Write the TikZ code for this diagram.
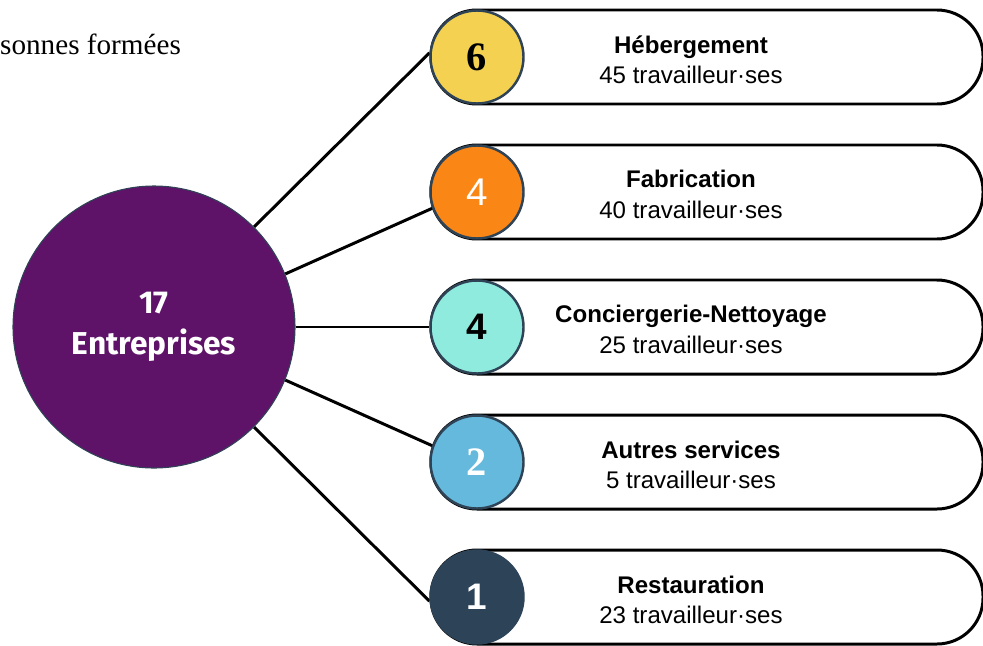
\documentclass[tikz,border=0pt]{standalone}
\usepackage{fontspec}
\setmainfont{Liberation Serif}
\setsansfont{Liberation Sans}
\newfontfamily\humfont{Fira Sans}
\usepackage{xcolor}
\usetikzlibrary{positioning,backgrounds}
\definecolor{entpurple}{HTML}{5E1368}
\definecolor{slateline}{HTML}{2F4356}
\definecolor{hebyellow}{HTML}{F4D150}
\definecolor{faborange}{HTML}{FA8616}
\definecolor{conteal}{HTML}{8EEBDE}
\definecolor{autblue}{HTML}{64B9DC}
\definecolor{resnavy}{HTML}{2D4358}
\tikzset{
  entcirc/.style = {circle, fill=entpurple, draw=slateline, line width=0.6pt,
                    minimum size=5.64cm, inner sep=0pt, text=white, align=center,
                    font=\humfont\bfseries\fontsize{18}{23}\selectfont},
  numcirc/.style = {circle, draw=slateline, line width=1.4pt, minimum size=1.86cm,
                    inner sep=0pt, font=\fontsize{20}{22}\selectfont},
  sectbox/.style = {rectangle, rounded corners=0.92cm, draw=black, fill=white,
                    line width=1.7pt, minimum width=11.04cm, minimum height=1.88cm,
                    inner sep=0pt},
  sectlab/.style = {font=\sffamily\fontsize{13.7}{17.2}\selectfont, align=center},
  spoke/.style   = {line width=1.7pt, black},
}

\begin{document}
\begin{tikzpicture}
\useasboundingbox (0,0) rectangle (19.66,-12.9);
\node[anchor=base west, font=\rmfamily\fontsize{16.6}{18}\selectfont] (titre) at (-0.12,-1.08) {sonnes formées};
% central circle
\node[entcirc] (ent) at (3.08,-6.54) {17\\Entreprises};
% sector boxes
\node[sectbox] (b1) at (14.14,-1.14) {};
\node[sectbox] (b2) at (14.14,-3.84) {};
\node[sectbox] (b3) at (14.14,-6.54) {};
\node[sectbox] (b4) at (14.14,-9.24) {};
\node[sectbox] (b5) at (14.14,-11.94) {};
\node[sectlab] (t1) at ([xshift=-0.32cm,yshift=-0.05cm]b1.center) {\textbf{Hébergement}\\45 travailleur·ses};
\node[sectlab] (t2) at ([xshift=-0.32cm,yshift=-0.05cm]b2.center) {\textbf{Fabrication}\\40 travailleur·ses};
\node[sectlab] (t3) at ([xshift=-0.32cm,yshift=-0.05cm]b3.center) {\textbf{Conciergerie-Nettoyage}\\25 travailleur·ses};
\node[sectlab] (t4) at ([xshift=-0.32cm,yshift=-0.05cm]b4.center) {\textbf{Autres services}\\5 travailleur·ses};
\node[sectlab] (t5) at ([xshift=-0.32cm,yshift=-0.05cm]b5.center) {\textbf{Restauration}\\23 travailleur·ses};
% number circles
\node[numcirc, fill=hebyellow, font=\rmfamily\bfseries\fontsize{23}{24}\selectfont] (n1) at (9.54,-1.14) {6};
\node[numcirc, fill=faborange, text=white, font=\sffamily\fontsize{22}{24}\selectfont] (n2) at (9.54,-3.84) {4};
\node[numcirc, fill=conteal, font=\sffamily\bfseries\fontsize{21}{24}\selectfont] (n3) at (9.54,-6.54) {4};
\node[numcirc, fill=autblue, text=white, font=\rmfamily\bfseries\fontsize{23}{24}\selectfont] (n4) at (9.54,-9.24) {2};
\node[numcirc, fill=resnavy, draw=resnavy, text=white, font=\sffamily\bfseries\fontsize{21}{24}\selectfont] (n5) at (9.54,-11.94) {1};
\begin{scope}[on background layer]
  \draw[spoke] (ent.45) -- (n1.175);
  \draw[spoke] (ent.22.5) -- (n2.200);
  \draw[spoke] (ent.0) -- (n3.180);
  \draw[spoke] (ent.-22.5) -- (n4.160);
  \draw[spoke] (ent.-45) -- (n5.185);
\end{scope}
\end{tikzpicture}
\end{document}
